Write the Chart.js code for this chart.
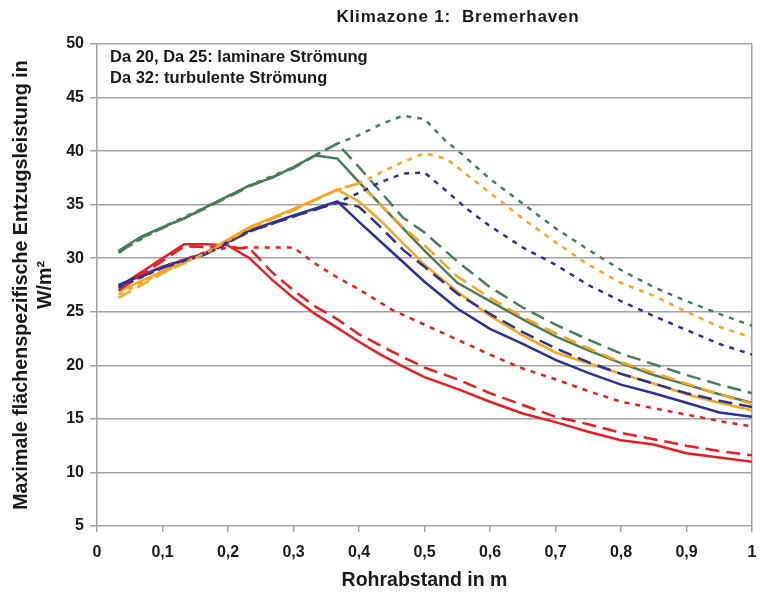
<!DOCTYPE html>
<html>
<head>
<meta charset="utf-8">
<script src="https://cdn.jsdelivr.net/npm/chart.js@4.4.0/dist/chart.umd.min.js"></script>
<style>
  body { margin: 0; background: #fff; }
  canvas { display: block; }
</style>
</head>
<body>
<canvas id="chart" width="760" height="599"></canvas>
<script>
// [Rohrabstand in m, Entzugsleistung in W/m²]
const redSolid = [[0.033,27.3],[0.133,31.3],[0.167,31.3],[0.2,31.2],[0.233,30.0],[0.267,28.0],[0.3,26.3],[0.333,24.8],[0.367,23.5],[0.4,22.2],[0.433,21.0],[0.467,19.9],[0.5,18.9],[0.55,17.8],[0.6,16.6],[0.65,15.5],[0.7,14.7],[0.75,13.8],[0.8,13.0],[0.85,12.6],[0.9,11.8],[0.95,11.4],[1.0,11.0]];
const redDashed = [[0.033,27.0],[0.133,31.1],[0.2,31.0],[0.233,30.9],[0.267,28.7],[0.3,27.0],[0.333,25.5],[0.367,24.3],[0.4,22.9],[0.45,21.3],[0.5,19.8],[0.55,18.7],[0.6,17.4],[0.65,16.3],[0.7,15.2],[0.75,14.5],[0.8,13.7],[0.85,13.1],[0.9,12.5],[0.95,12.0],[1.0,11.6]];
const redDotted = [[0.033,27.2],[0.1,29.2],[0.167,30.6],[0.2,31.0],[0.3,31.0],[0.333,29.5],[0.367,28.2],[0.4,27.1],[0.45,25.2],[0.5,23.8],[0.55,22.4],[0.6,21.0],[0.65,19.7],[0.7,18.7],[0.75,17.6],[0.8,16.6],[0.85,16.0],[0.9,15.4],[0.95,14.8],[1.0,14.3]];

const blueSolid = [[0.033,27.5],[0.1,29.2],[0.167,30.5],[0.233,32.6],[0.3,34.0],[0.367,35.3],[0.4,33.4],[0.45,30.6],[0.5,27.8],[0.55,25.3],[0.6,23.4],[0.65,22.0],[0.7,20.5],[0.75,19.3],[0.8,18.2],[0.85,17.4],[0.9,16.5],[0.95,15.6],[1.0,15.2]];
const blueDashed = [[0.033,27.4],[0.1,29.1],[0.167,30.4],[0.233,32.5],[0.3,33.9],[0.367,35.2],[0.4,34.8],[0.433,32.9],[0.467,30.8],[0.5,29.2],[0.55,26.7],[0.6,24.8],[0.65,23.1],[0.7,21.6],[0.75,20.3],[0.8,19.2],[0.85,18.3],[0.9,17.4],[0.95,16.7],[1.0,16.1]];
const blueDotted = [[0.033,27.3],[0.1,29.1],[0.167,30.4],[0.233,32.5],[0.3,33.9],[0.367,35.2],[0.4,36.1],[0.433,37.1],[0.467,37.9],[0.5,38.0],[0.533,36.3],[0.567,34.5],[0.6,33.0],[0.65,31.0],[0.7,29.4],[0.75,27.5],[0.8,26.0],[0.85,24.6],[0.9,23.3],[0.95,22.0],[1.0,21.0]];

const orangeSolid = [[0.033,26.9],[0.1,28.8],[0.167,30.6],[0.233,32.9],[0.3,34.6],[0.367,36.4],[0.4,35.3],[0.433,33.5],[0.467,31.4],[0.5,29.4],[0.55,26.9],[0.6,24.6],[0.65,22.8],[0.7,21.2],[0.75,20.2],[0.8,19.2],[0.85,18.3],[0.9,17.3],[0.95,16.5],[1.0,15.8]];
const orangeDashed = [[0.033,26.3],[0.1,28.6],[0.167,30.5],[0.233,32.8],[0.3,34.5],[0.367,36.4],[0.4,37.0],[0.433,35.0],[0.467,32.9],[0.5,31.2],[0.55,28.3],[0.6,26.3],[0.65,24.5],[0.7,23.0],[0.75,21.6],[0.8,20.3],[0.85,19.3],[0.9,18.3],[0.95,17.3],[1.0,16.4]];
const orangeDotted = [[0.033,26.6],[0.1,28.7],[0.167,30.5],[0.233,32.8],[0.3,34.5],[0.367,36.4],[0.4,37.0],[0.433,38.0],[0.467,39.0],[0.5,39.8],[0.533,39.3],[0.55,38.5],[0.6,36.1],[0.65,33.7],[0.7,31.5],[0.75,29.4],[0.8,27.7],[0.85,26.5],[0.9,25.0],[0.95,23.6],[1.0,22.6]];

const greenSolid = [[0.033,30.7],[0.067,32.0],[0.1,32.9],[0.133,33.7],[0.167,34.8],[0.2,35.8],[0.233,36.8],[0.267,37.5],[0.3,38.5],[0.333,39.6],[0.367,39.3],[0.4,37.1],[0.433,35.0],[0.467,32.8],[0.5,30.7],[0.55,27.7],[0.6,26.0],[0.65,24.3],[0.7,22.7],[0.75,21.4],[0.8,20.2],[0.85,19.1],[0.9,18.2],[0.95,17.3],[1.0,16.5]];
const greenDashed = [[0.033,30.5],[0.067,31.9],[0.1,32.8],[0.167,34.7],[0.233,36.7],[0.3,38.4],[0.333,39.6],[0.367,40.7],[0.4,38.5],[0.433,36.2],[0.467,33.8],[0.5,32.4],[0.55,29.7],[0.6,27.3],[0.65,25.4],[0.7,23.8],[0.75,22.4],[0.8,21.1],[0.85,20.1],[0.9,19.1],[0.95,18.2],[1.0,17.4]];
const greenDotted = [[0.033,30.6],[0.1,32.9],[0.167,34.8],[0.233,36.8],[0.3,38.5],[0.333,39.6],[0.367,40.7],[0.4,41.5],[0.433,42.5],[0.467,43.3],[0.5,43.0],[0.533,40.9],[0.55,40.1],[0.6,37.4],[0.65,35.1],[0.7,32.8],[0.75,30.8],[0.8,28.9],[0.85,27.3],[0.9,26.0],[0.95,24.8],[1.0,23.7]];

const chartTitle = 'Klimazone 1:  Bremerhaven';
const noteLines = ['Da 20, Da 25: laminare Strömung', 'Da 32: turbulente Strömung'];

const RED = '#ec1c24', BLUE = '#2e3192', ORANGE = '#f9a61a', GREEN = '#4b7d5a';
const DASH = [14, 7], DOT = [5, 6];
const FONT = '"Liberation Sans", Arial, sans-serif';

function series(points, color, dash) {
    return {
        data: points.map(p => ({ x: p[0], y: p[1] })),
        borderColor: color,
        borderWidth: 2.5,
        borderDash: dash,
        pointRadius: 0,
        tension: 0,
        fill: false
    };
}

const textPlugin = {
    id: 'texts',
    afterDraw(chart) {
        const ctx = chart.ctx;
        ctx.save();
        ctx.fillStyle = '#1a1a1a';
        ctx.textBaseline = 'middle';
        ctx.font = 'bold 17px ' + FONT;
        ctx.letterSpacing = '0.8px';
        ctx.textAlign = 'center';
        ctx.fillText(chartTitle, 458, 17);
        ctx.letterSpacing = '0px';
        ctx.font = 'bold 16.5px ' + FONT;
        ctx.textAlign = 'left';
        ctx.fillText(noteLines[0], 110, 57);
        ctx.fillText(noteLines[1], 110, 78);
        ctx.restore();
    }
};

const gridGrey = '#a3a3a3';
const tickFont = { family: FONT, size: 16, weight: 'bold' };

new Chart(document.getElementById('chart'), {
    type: 'line',
    data: {
        datasets: [
            series(greenDotted, GREEN, DOT),
            series(orangeDotted, ORANGE, DOT),
            series(blueDotted, BLUE, DOT),
            series(redDotted, RED, DOT),
            series(greenDashed, GREEN, DASH),
            series(orangeDashed, ORANGE, DASH),
            series(blueDashed, BLUE, DASH),
            series(redDashed, RED, DASH),
            series(greenSolid, GREEN, []),
            series(blueSolid, BLUE, []),
            series(orangeSolid, ORANGE, []),
            series(redSolid, RED, [])
        ]
    },
    options: {
        responsive: false,
        animation: false,
        layout: { padding: { top: 44, right: 8, left: 0, bottom: 0 } },
        plugins: {
            legend: { display: false },
            tooltip: { enabled: false }
        },
        scales: {
            x: {
                type: 'linear',
                min: 0,
                max: 1,
                border: { display: false },
                grid: {
                    color: ctx => (ctx.tick && (ctx.tick.value === 0 || ctx.tick.value === 1)) ? gridGrey : 'rgba(0,0,0,0)',
                    tickColor: gridGrey,
                    lineWidth: 1.5,
                    tickLength: 6
                },
                ticks: {
                    stepSize: 0.1,
                    padding: 11,
                    color: '#1a1a1a',
                    font: tickFont,
                    callback: v => (Math.round(v * 10) / 10).toString().replace('.', ',')
                },
                title: {
                    display: true,
                    text: 'Rohrabstand in m',
                    color: '#1a1a1a',
                    font: { family: FONT, size: 19.5, weight: 'bold', lineHeight: 1.2 },
                    padding: { top: 0, bottom: 7 }
                },
                afterFit: scale => {
                    scale.height = 73;
                    scale.paddingRight = 0;
                    scale.paddingLeft = 0;
                }
            },
            y: {
                min: 5,
                max: 50,
                border: { display: false },
                grid: {
                    color: gridGrey,
                    lineWidth: 1.5,
                    tickLength: 7
                },
                ticks: {
                    stepSize: 5,
                    padding: 6,
                    color: '#1a1a1a',
                    font: tickFont
                },
                title: {
                    display: true,
                    text: ['Maximale flächenspezifische Entzugsleistung in', 'W/m²'],
                    color: '#1a1a1a',
                    font: { family: FONT, size: 19.7, weight: 'bold', lineHeight: 1.17 },
                    padding: { top: 10.5, bottom: 0 }
                },
                afterFit: scale => { scale.width = 97; }
            }
        }
    },
    plugins: [textPlugin]
});
</script>
</body>
</html>
